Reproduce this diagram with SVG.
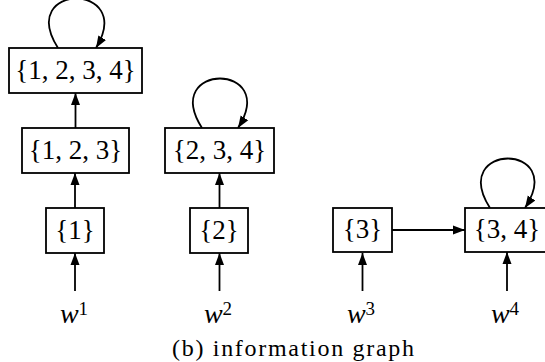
<svg xmlns="http://www.w3.org/2000/svg" width="545" height="362" viewBox="0 0 545 362">
<defs>
<marker id="ah" markerUnits="userSpaceOnUse" markerWidth="13" markerHeight="11" refX="12" refY="5" orient="auto">
<path d="M0,0.5 L12,5 L0,9.5 Z" fill="#000"/>
</marker>
<style>
.box{fill:#fff;stroke:#000;stroke-width:1.8}
text{font-family:'Liberation Serif','DejaVu Serif',serif;fill:#000;text-anchor:middle}
.lbl{font-size:27px}
.w{font-size:28px}
.cap{font-size:24px}
.edge{fill:none;stroke:#000;stroke-width:1.8;marker-end:url(#ah)}
</style>
</defs>
<rect width="545" height="362" fill="#fff"/>
<g id="connectors">
<path class="edge" d="M75.5,128 L75.5,93"/>
<path class="edge" d="M75,208 L75,173"/>
<path class="edge" d="M219.5,208 L219.5,173"/>
<path class="edge" d="M392,230 L465,230"/>
<path class="edge" d="M75,291 L75,253"/>
<path class="edge" d="M219.5,291 L219.5,253"/>
<path class="edge" d="M362.5,291 L362.5,253"/>
<path class="edge" d="M507,291 L507,252"/>
<path class="edge" d="M58,48 C16,-18 136,-18 96,48"/>
<path class="edge" d="M202,128 C160,62 280,62 238,128"/>
<path class="edge" d="M490,208 C448,142 568,142 525,208"/>
</g>
<g id="n1234"><rect class="box" x="9" y="48" width="133" height="45"/><text class="lbl" x="75.5" y="79">{1, 2, 3, 4}</text></g>
<g id="n123"><rect class="box" x="22" y="128" width="107" height="45"/><text class="lbl" x="75.5" y="159">{1, 2, 3}</text></g>
<g id="n1"><rect class="box" x="46" y="208" width="58" height="45"/><text class="lbl" x="75" y="239">{1}</text></g>
<g id="n234"><rect class="box" x="165" y="128" width="109" height="45"/><text class="lbl" x="219.5" y="159">{2, 3, 4}</text></g>
<g id="n2"><rect class="box" x="190" y="208" width="58" height="45"/><text class="lbl" x="219" y="239">{2}</text></g>
<g id="n3"><rect class="box" x="333" y="208" width="59" height="44"/><text class="lbl" x="362.5" y="238">{3}</text></g>
<g id="n34"><rect class="box" x="465" y="208" width="84" height="44"/><text class="lbl" x="507" y="238">{3, 4}</text></g>
<g id="w1"><text class="w" x="74" y="323"><tspan font-style="italic">w</tspan><tspan font-size="19" dy="-8">1</tspan></text></g>
<g id="w2"><text class="w" x="218" y="323"><tspan font-style="italic">w</tspan><tspan font-size="19" dy="-8">2</tspan></text></g>
<g id="w3"><text class="w" x="361" y="323"><tspan font-style="italic">w</tspan><tspan font-size="19" dy="-8">3</tspan></text></g>
<g id="w4"><text class="w" x="505" y="323"><tspan font-style="italic">w</tspan><tspan font-size="19" dy="-8">4</tspan></text></g>
<g id="caption"><text class="cap" x="293" y="356" textLength="242">(b)  information graph</text></g>
</svg>
